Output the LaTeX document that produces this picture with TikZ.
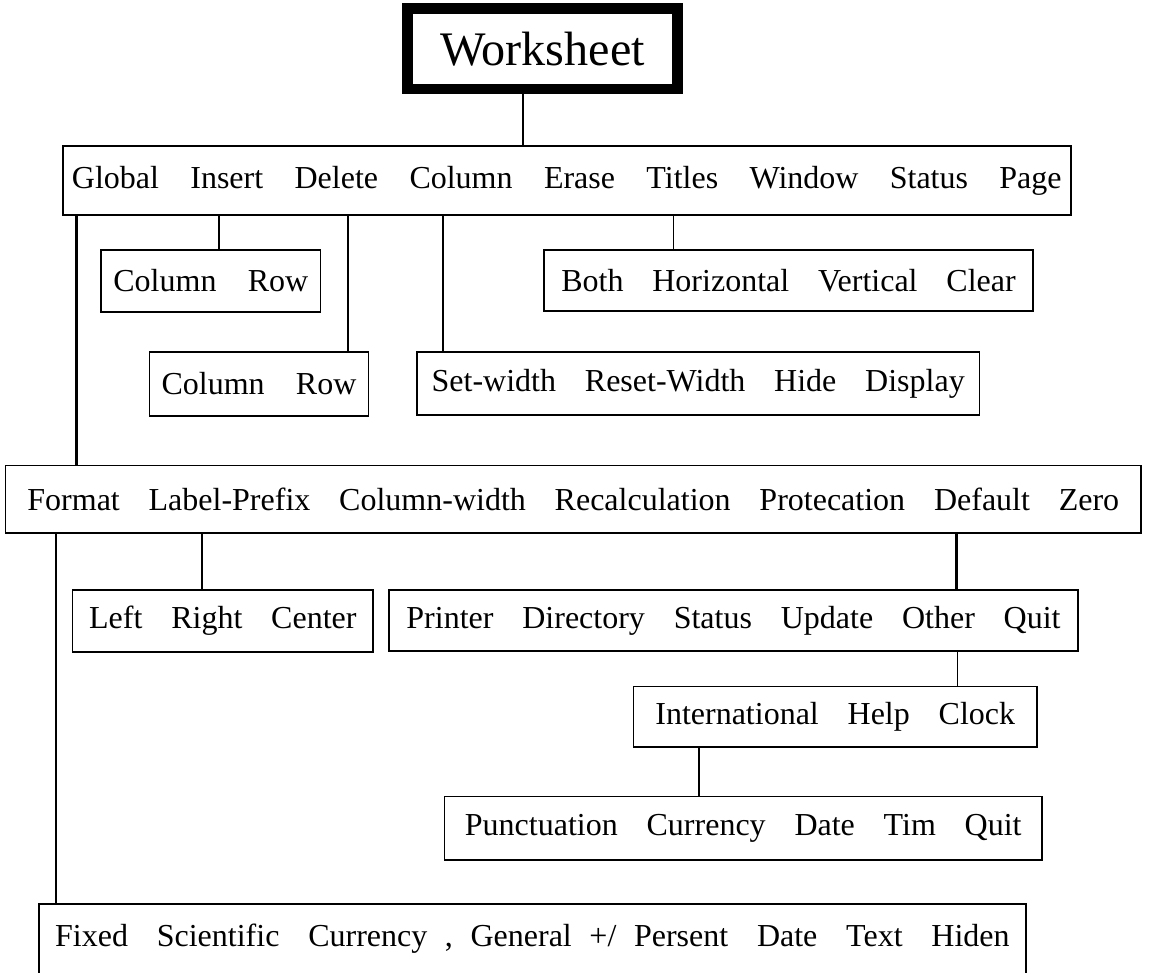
\documentclass[tikz,border=0pt]{standalone}
\usepackage{fontspec}
\setmainfont{Liberation Serif}
\usepackage{tikz}

\newcommand{\gap}{\hspace{0.9em}}
\newcommand{\wgap}{\hspace{0.98em}}
\newcommand{\sgap}{\hspace{0.55em}}

\begin{document}
\begin{tikzpicture}[x=0.01cm,y=-0.01cm,font=\fontsize{9.1}{11}\selectfont]
        % Setup the style for the boxes
        \tikzset{box style/.style={draw,
                                   line width=0.45pt,
                                   inner sep=0pt},
                 link style/.style={line width=0.4pt}}
        \clip (0,0) rectangle (1149,972);
        \fill[white] (0,0) rectangle (1149,972);

        % Draw the boxes
        \node[box style, line width=3.1pt, minimum width=2.69cm, minimum height=0.805cm,
              font=\fontsize{13.7}{16}\selectfont] at (542.5,48.75) (wsheet) {Worksheet};
        \node[box style, minimum width=10.075cm, minimum height=0.69cm] at (566.75,180.5) (wmenu)
            {Global\wgap Insert\wgap Delete\wgap Column\wgap Erase\wgap Titles\wgap Window\wgap Status\wgap Page};
        \node[box style, minimum width=2.19cm, minimum height=0.62cm] at (210.85,280.85) (insert)
            {Column\wgap Row};
        \node[box style, minimum width=4.89cm, minimum height=0.61cm] at (788.5,280.5) (titles)
            {Both\gap Horizontal\gap Vertical\gap Clear};
        \node[box style, minimum width=2.19cm, minimum height=0.637cm] at (259,383.85) (delete)
            {Column\wgap Row};
        \node[box style, minimum width=5.624cm, minimum height=0.63cm] at (698.2,383.5) (column)
            {Set-width\gap Reset-Width\gap Hide\gap Display};
        \node[box style, minimum width=11.35cm, minimum height=0.673cm] at (573.25,499.35) (gmenu)
            {Format\gap Label-Prefix\gap Column-width\gap Recalculation\gap Protecation\gap Default\gap Zero};
        \node[box style, minimum width=3.003cm, minimum height=0.617cm] at (222.85,620.85) (label)
            {Left\gap Right\gap Center};
        \node[box style, minimum width=6.89cm, minimum height=0.61cm] at (733.5,620.5) (default)
            {Printer\gap Directory\gap Status\gap Update\gap Other\gap Quit};
        \node[box style, minimum width=4.036cm, minimum height=0.603cm] at (835.2,716.85) (other)
            {International\gap Help\gap Clock};
        \node[box style, minimum width=5.97cm, minimum height=0.635cm] at (743.25,828.25) (intl)
            {Punctuation\gap Currency\gap Date\gap Tim\gap Quit};
        \node[box style, minimum width=9.867cm, minimum height=0.70cm] at (532.35,939) (fmt)
            {Fixed\gap Scientific\gap Currency\sgap ,\sgap General\sgap +/\sgap Persent\gap Date\gap Text\gap Hiden};

        % Where the lines leave the boxes
        \coordinate (cws)  at (523,0);
        \coordinate (cglb) at (76.5,0);
        \coordinate (cins) at (219,0);
        \coordinate (cdel) at (348,0);
        \coordinate (ccol) at (443,0);
        \coordinate (ctit) at (673.6,0);
        \coordinate (cfmt) at (56,0);
        \coordinate (clab) at (202,0);
        \coordinate (cdef) at (956.4,0);
        \coordinate (coth) at (957.6,0);
        \coordinate (cint) at (699,0);

        % Connect the boxes with lines
        \draw[link style] (wsheet.south -| cws) -- (wmenu.north -| cws);
        \draw[link style, line width=0.9pt] (wmenu.south -| cglb) -- (gmenu.north -| cglb);
        \draw[link style] (wmenu.south -| cins) -- (insert.north -| cins);
        \draw[link style] (wmenu.south -| cdel) -- (delete.north -| cdel);
        \draw[link style] (wmenu.south -| ccol) -- (column.north -| ccol);
        \draw[link style] (wmenu.south -| ctit) -- (titles.north -| ctit);
        \draw[link style] (gmenu.south -| cfmt) -- (fmt.north -| cfmt);
        \draw[link style] (gmenu.south -| clab) -- (label.north -| clab);
        \draw[link style, line width=0.7pt] (gmenu.south -| cdef) -- (default.north -| cdef);
        \draw[link style] (default.south -| coth) -- (other.north -| coth);
        \draw[link style] (other.south -| cint) -- (intl.north -| cint);
\end{tikzpicture}
\end{document}
